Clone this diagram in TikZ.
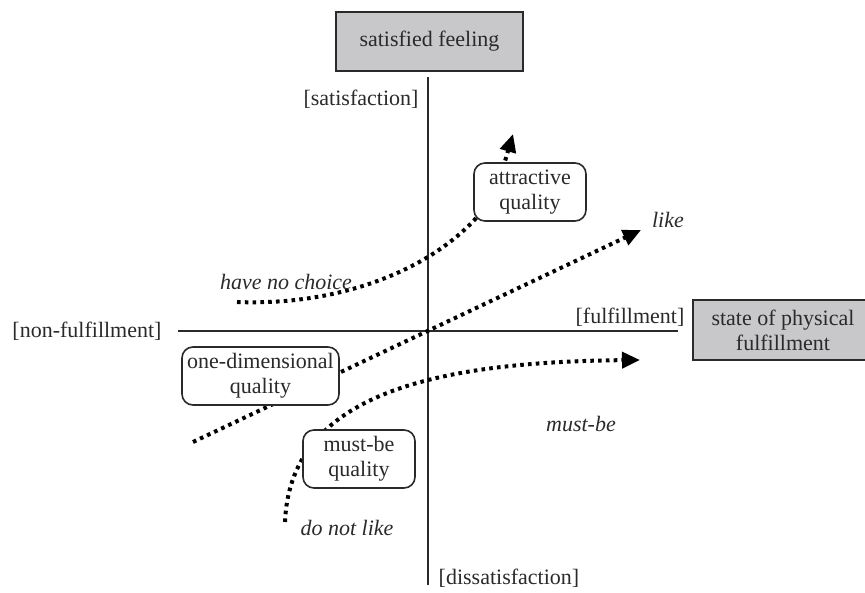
\documentclass[tikz,border=0pt]{standalone}
\usepackage{fontspec}
\setmainfont{Liberation Serif}
\usetikzlibrary{arrows.meta}
\definecolor{boxgray}{HTML}{C8C8CA}
\definecolor{ink}{HTML}{2A2A2A}
\begin{document}
\begin{tikzpicture}[x=1pt,y=-1pt,
  every node/.style={font=\fontsize{22}{25}\selectfont, text=ink},
  graybox/.style={draw=ink, line width=1.6pt, fill=boxgray, align=center, inner sep=0pt},
  qualbox/.style={draw=ink, line width=1.6pt, fill=white, rounded corners=11pt, align=center, inner sep=0pt},
  axis/.style={draw=ink, line width=1.5pt},
  dotline/.style={draw=black, line width=4pt, dash pattern=on 3.6pt off 4.2pt},
  tip/.style={-{Triangle[length=18pt,width=16pt]}},
  lbl/.style={font=\fontsize{22}{25}\selectfont\itshape}
]
\useasboundingbox (0,0) rectangle (865,592);
\clip (0,0) rectangle (865,592);
% axes
\coordinate (vtop) at (428,77);
\coordinate (vbot) at (428,585);
\coordinate (hl) at (178,331);
\coordinate (hr) at (678,331);
\coordinate (o) at (428,331);
\draw[axis] (vtop) -- (vbot);
\draw[axis] (hl) -- (hr);
% gray boxes
\node[graybox, minimum width=187pt, minimum height=59pt] (sat) at (429.5,41.5) {satisfied feeling};
\node[graybox, minimum width=180pt, minimum height=60pt] (phys) at (783,330) {state of physical\\fulfillment};
% axis labels
\node (lsat) at (361,99) {[satisfaction]};
\node (lful) at (630,317) {[fulfillment]};
\node (lnon) at (87,331) {[non-fulfillment]};
\node (ldis) at (509,578) {[dissatisfaction]};
% dotted curves
\coordinate (a0) at (237,302);
\coordinate (a1) at (478,216);
\coordinate (a2) at (503,168);
\coordinate (a3) at (513,134);
\draw[dotline] (a0) .. controls (340,306) and (430,270) .. (a1);
\draw[dotline, tip] (a2) -- (a3);
\coordinate (l0) at (193,442);
\coordinate (l1) at (641,230);
\draw[dotline, tip] (l0) -- (l1);
\coordinate (m0) at (285,522);
\coordinate (m1) at (640,360);
\draw[dotline, tip] (m0) .. controls (290,400) and (420,362) .. (m1);
% quality boxes
\node[qualbox, minimum width=112pt, minimum height=58pt] (attr) at (530,192) {attractive\\quality};
\node[qualbox, minimum width=157pt, minimum height=58pt] (onedim) at (260.5,376) {one-dimensional\\quality};
\node[qualbox, minimum width=112pt, minimum height=58pt] (must) at (359,459) {must-be\\quality};
% italic labels
\node[lbl] (like) at (668,220) {like};
\node[lbl] (noch) at (286,282) {have no choice};
\node[lbl] (mb) at (581,424) {must-be};
\node[lbl] (dnl) at (347,528) {do not like};
\end{tikzpicture}
\end{document}
